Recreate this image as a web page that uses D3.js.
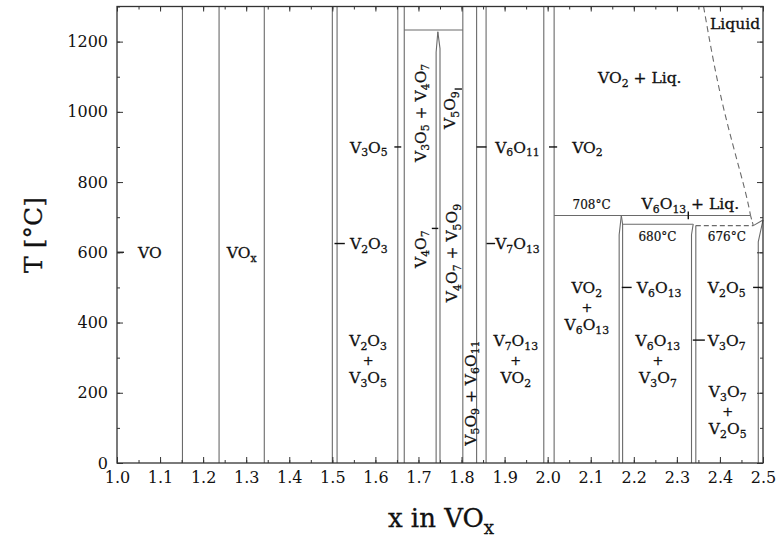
<!DOCTYPE html>
<html>
<head>
<meta charset="utf-8">
<script src="https://cdn.jsdelivr.net/npm/d3@7"></script>
<style>
body { margin: 0; background: #fff; }
svg { display: block; }
text { font-family: "DejaVu Serif", serif; fill: #111; }
</style>
</head>
<body>
<svg id="chart" width="777" height="539"></svg>
<script>
// phase boundaries running over the whole temperature range (x in VOx)
var fullLines = [1.152, 1.237, 1.342, 1.500, 1.511, 1.652, 1.667, 1.803, 1.835, 1.857, 1.991, 2.015];

// narrow phases, [x, T]
var v4o7Left   = [[1.741, 0], [1.741, 1170], [1.745, 1228]];
var v4o7Right  = [[1.750, 0], [1.750, 1180], [1.745, 1228]];
var v6o13Left  = [[2.166, 0], [2.166, 650], [2.171, 705]];
var v6o13Right = [[2.174, 0], [2.174, 680], [2.171, 705]];
var v3o7Left   = [[2.334, 0], [2.334, 650], [2.338, 681]];
var v3o7Right  = [[2.344, 0], [2.344, 676]];
var v2o5Left   = [[2.489, 0], [2.489, 630], [2.500, 692]];
var eutecticUp = [[2.4775, 676], [2.500, 692]];

// horizontal lines [x1, x2, T]
var flatLines = [[1.667, 1.803, 1233], [2.015, 2.471, 705], [2.174, 2.337, 680]];
var dashedFlat = [[2.344, 2.4775, 676]];

// liquidus (dashed)
var liquidus = [[2.362, 1300], [2.404, 1034], [2.452, 806], [2.471, 705]];
var liquidusEnd = [[2.471, 705], [2.4775, 676]];

// short pointers from labels to phases [x1, x2, T]
var pointers = [[1.000, 1.016, 600], [1.644, 1.660, 900], [1.835, 1.858, 900], [2.003, 2.022, 900],
                [1.505, 1.529, 625], [1.858, 1.878, 625], [1.731, 1.746, 668], [1.784, 1.801, 1065],
                [2.172, 2.195, 500], [2.337, 2.365, 350], [2.477, 2.500, 500]];
var smallMark = [2.3265, 694, 716];

// labels: text, x, T   ({..} = subscript)
var leftLabels = [["VO", 1.049, 600], ["VO{x}", 1.255, 600], ["V{3}O{5}", 1.541, 900],
                  ["V{6}O{11}", 1.878, 900], ["VO{2}", 2.057, 900], ["V{2}O{3}", 1.541, 625],
                  ["V{7}O{13}", 1.878, 625], ["V{6}O{13}", 2.207, 500], ["V{2}O{5}", 2.372, 500],
                  ["V{3}O{7}", 2.372, 350], ["VO{2} + Liq.", 2.117, 1099], ["Liquid", 2.377, 1253],
                  ["V{6}O{13} + Liq.", 2.218, 740]];
var stackLabels = [[["V{2}O{3}", "+", "V{3}O{5}"], 1.583, 295], [["V{7}O{13}", "+", "VO{2}"], 1.926, 295],
                   [["VO{2}", "+", "V{6}O{13}"], 2.091, 447], [["V{6}O{13}", "+", "V{3}O{7}"], 2.256, 296],
                   [["V{3}O{7}", "+", "V{2}O{5}"], 2.418, 151]];
var vertLabels = [["V{3}O{5} + V{4}O{7}", 1.7036, 997], ["V{5}O{9}", 1.773, 1005], ["V{4}O{7}", 1.7036, 609],
                  ["V{4}O{7} + V{5}O{9}", 1.777, 598], ["V{5}O{9} + V{6}O{11}", 1.8197, 199]];
var tempLabels = [["708°C", 2.102, 735], ["680°C", 2.255, 644], ["676°C", 2.416, 644]];

var xTicks = d3.range(10, 26).map(function(d) { return d / 10; });
var xMinor = d3.range(20, 51).map(function(d) { return d / 20; });
var yTicks = [0, 200, 400, 600, 800, 1000, 1200];
var yMinor = d3.range(0, 14).map(function(d) { return d * 100; });

var svg = d3.select("#chart");
var x = d3.scaleLinear().domain([1, 2.5]).range([117, 763]);
var y = d3.scaleLinear().domain([0, 1300]).range([463, 6.5]);

var grey = "#6a6a6a";

function addText(g, str, size) {
    var t = g.append("text").attr("font-size", size)
        .attr("stroke", "#111").attr("stroke-width", 0.3);
    var sub = false;
    str.split(/(\{[^}]*\})/).forEach(function(p) {
        if (!p) return;
        if (p[0] === "{") {
            t.append("tspan").attr("font-size", size * 0.7).attr("dy", size * 0.25).text(p.slice(1, -1));
            sub = true;
        } else {
            t.append("tspan").attr("dy", sub ? -size * 0.25 : 0).text(p);
            sub = false;
        }
    });
    return t;
}

var line = d3.line()
    .x(function(d) { return x(d[0]); })
    .y(function(d) { return y(d[1]); });

// vertical boundaries
svg.selectAll(".vline").data(fullLines).enter().append("line")
    .attr("x1", function(d) { return x(d); }).attr("x2", function(d) { return x(d); })
    .attr("y1", y(0)).attr("y2", y(1300))
    .attr("stroke", grey).attr("stroke-width", 1.1);

[v4o7Left, v4o7Right, v6o13Left, v6o13Right, v3o7Left, v3o7Right, v2o5Left, eutecticUp].forEach(function(p) {
    svg.append("path").attr("d", line(p)).attr("fill", "none")
        .attr("stroke", grey).attr("stroke-width", 1.1);
});

svg.selectAll(".hline").data(flatLines).enter().append("line")
    .attr("x1", function(d) { return x(d[0]); }).attr("x2", function(d) { return x(d[1]); })
    .attr("y1", function(d) { return y(d[2]); }).attr("y2", function(d) { return y(d[2]); })
    .attr("stroke", grey).attr("stroke-width", 1.1);

svg.selectAll(".dline").data(dashedFlat).enter().append("line")
    .attr("x1", function(d) { return x(d[0]); }).attr("x2", function(d) { return x(d[1]); })
    .attr("y1", function(d) { return y(d[2]); }).attr("y2", function(d) { return y(d[2]); })
    .attr("stroke", grey).attr("stroke-width", 1.1).attr("stroke-dasharray", "5,3");

svg.append("path").attr("d", line.curve(d3.curveNatural)(liquidus)).attr("fill", "none")
    .attr("stroke", grey).attr("stroke-width", 1.1).attr("stroke-dasharray", "6,4");
line.curve(d3.curveLinear);
svg.append("path").attr("d", line(liquidusEnd)).attr("fill", "none")
    .attr("stroke", grey).attr("stroke-width", 1.1).attr("stroke-dasharray", "4,3");

// pointers
svg.selectAll(".ptr").data(pointers).enter().append("line")
    .attr("x1", function(d) { return x(d[0]); }).attr("x2", function(d) { return x(d[1]); })
    .attr("y1", function(d) { return y(d[2]); }).attr("y2", function(d) { return y(d[2]); })
    .attr("stroke", "#111").attr("stroke-width", 1.4);
svg.append("line")
    .attr("x1", x(smallMark[0])).attr("x2", x(smallMark[0]))
    .attr("y1", y(smallMark[1])).attr("y2", y(smallMark[2]))
    .attr("stroke", "#111").attr("stroke-width", 1.4);

// axes
function styleAxis(g) {
    g.select(".domain").remove();
    g.selectAll("line").attr("stroke", "#333");
    g.selectAll("text").attr("font-family", "DejaVu Serif").attr("font-size", 16).attr("fill", "#111");
}
svg.append("g").attr("transform", "translate(0," + y(0) + ")")
    .call(d3.axisBottom(x).tickValues(xTicks).tickSize(-6).tickPadding(9).tickFormat(d3.format(".1f")))
    .call(styleAxis);
svg.append("g").attr("transform", "translate(0," + y(0) + ")")
    .call(d3.axisBottom(x).tickValues(xMinor).tickSize(-3).tickFormat(""))
    .call(styleAxis);
svg.append("g").attr("transform", "translate(0," + y(1300) + ")")
    .call(d3.axisTop(x).tickValues(xTicks).tickSize(-5).tickFormat(""))
    .call(styleAxis);
svg.append("g").attr("transform", "translate(0," + y(1300) + ")")
    .call(d3.axisTop(x).tickValues(xMinor).tickSize(-3).tickFormat(""))
    .call(styleAxis);
svg.append("g").attr("transform", "translate(" + x(1) + ",0)")
    .call(d3.axisLeft(y).tickValues(yTicks).tickSize(-6).tickPadding(9).tickFormat(d3.format("d")))
    .call(styleAxis);
svg.append("g").attr("transform", "translate(" + x(1) + ",0)")
    .call(d3.axisLeft(y).tickValues(yMinor).tickSize(-3).tickFormat(""))
    .call(styleAxis);
svg.append("g").attr("transform", "translate(" + x(2.5) + ",0)")
    .call(d3.axisRight(y).tickValues(yTicks).tickSize(-6).tickFormat(""))
    .call(styleAxis);
svg.append("g").attr("transform", "translate(" + x(2.5) + ",0)")
    .call(d3.axisRight(y).tickValues(yMinor).tickSize(-3).tickFormat(""))
    .call(styleAxis);

svg.append("rect").attr("x", x(1)).attr("y", y(1300))
    .attr("width", x(2.5) - x(1)).attr("height", y(0) - y(1300))
    .attr("fill", "none").attr("stroke", "#333").attr("stroke-width", 1.3);

// labels
var size = 15.5;
leftLabels.forEach(function(d) {
    addText(svg, d[0], size).attr("x", x(d[1])).attr("y", y(d[2]) + size * 0.36);
});
stackLabels.forEach(function(d) {
    d[0].forEach(function(s, i) {
        addText(svg, s, s === "+" ? 13 : size).attr("text-anchor", "middle")
            .attr("x", x(d[1])).attr("y", y(d[2]) + (i - 1) * 18.5 + size * 0.36);
    });
});
vertLabels.forEach(function(d) {
    addText(svg, d[0], size).attr("text-anchor", "middle")
        .attr("transform", "translate(" + x(d[1]) + "," + y(d[2]) + ") rotate(-90)")
        .attr("y", size * 0.36);
});
tempLabels.forEach(function(d) {
    svg.append("text").attr("font-size", 12).attr("text-anchor", "middle")
        .attr("stroke", "#111").attr("stroke-width", 0.2)
        .attr("x", x(d[1])).attr("y", y(d[2]) + 4.5).text(d[0]);
});

// axis titles
svg.append("text").attr("font-size", 25).attr("text-anchor", "middle")
    .attr("stroke", "#111").attr("stroke-width", 0.3)
    .attr("transform", "translate(42,235) rotate(-90)").text("T [°C]");
addText(svg, "x in VO{x}", 26).attr("text-anchor", "middle").attr("x", 441).attr("y", 527);
</script>
</body>
</html>
